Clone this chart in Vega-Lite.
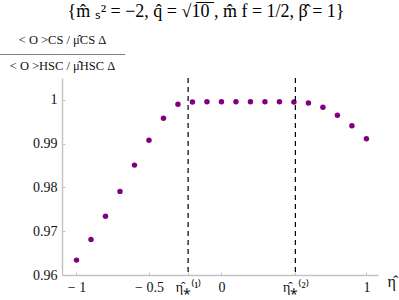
{
  "$schema": "https://vega.github.io/schema/vega-lite/v6.json",
  "autosize": {"type": "none"},
  "padding": {"left": 62, "top": 78, "right": 21, "bottom": 25},
  "width": 316,
  "height": 197,
  "background": "white",
  "view": {"stroke": null},
  "title": {
    "text": "{m̂ ₛ² = −2,  q̂ = √1̅0̅ ,  m̂ f = 1/2,  β̂ = 1}",
    "font": "Liberation Serif",
    "fontSize": 18,
    "fontWeight": "normal",
    "color": "#000",
    "anchor": "middle",
    "frame": "group",
    "offset": 12,
    "dx": -14
  },
  "datasets": {
    "pts": [
      {"eta": -1.0, "r": 0.9634},
      {"eta": -0.9, "r": 0.9681},
      {"eta": -0.8, "r": 0.9734},
      {"eta": -0.7, "r": 0.9791},
      {"eta": -0.6, "r": 0.9851},
      {"eta": -0.5, "r": 0.9908},
      {"eta": -0.4, "r": 0.9958},
      {"eta": -0.3, "r": 0.9990},
      {"eta": -0.2, "r": 0.9995},
      {"eta": -0.1, "r": 0.9996},
      {"eta": 0.0, "r": 0.9996},
      {"eta": 0.1, "r": 0.9996},
      {"eta": 0.2, "r": 0.9996},
      {"eta": 0.3, "r": 0.9996},
      {"eta": 0.4, "r": 0.9996},
      {"eta": 0.5, "r": 0.9995},
      {"eta": 0.6, "r": 0.9993},
      {"eta": 0.7, "r": 0.9983},
      {"eta": 0.8, "r": 0.9965},
      {"eta": 0.9, "r": 0.9941},
      {"eta": 1.0, "r": 0.9911}
    ],
    "stars": [
      {"eta": -0.23},
      {"eta": 0.51}
    ]
  },
  "config": {
    "axis": {
      "domainColor": "#c4c4c4",
      "domainWidth": 1.5,
      "tickColor": "#c4c4c4",
      "tickWidth": 1,
      "tickSize": -3,
      "labelPadding": 8,
      "labelFont": "Liberation Serif",
      "labelFontSize": 14,
      "labelColor": "#111",
      "labelOverlap": false,
      "labelFlush": false,
      "grid": false,
      "titleFont": "Liberation Serif",
      "titleFontWeight": "normal",
      "titleColor": "#111"
    }
  },
  "layer": [
    {
      "data": {"name": "pts"},
      "mark": {"type": "circle", "color": "#800080", "opacity": 1, "size": 30},
      "encoding": {
        "x": {
          "field": "eta",
          "type": "quantitative",
          "scale": {"domain": [-1.1, 1.08], "nice": false, "zero": false},
          "axis": {
            "values": [-1, -0.5, -0.23, 0, 0.51, 1],
            "labelExpr": "datum.value == -0.23 ? 'η̂⁎⁽¹⁾' : datum.value == 0.51 ? 'η̂⁎⁽²⁾' : (datum.value < 0 ? '− ' + format(-datum.value, '') : format(datum.value, ''))",
            "title": "η̂",
            "titleFontSize": 16,
            "titleAlign": "left",
            "titleBaseline": "middle",
            "titleAngle": 0,
            "titleX": 325,
            "titleY": 6
          }
        },
        "y": {
          "field": "r",
          "type": "quantitative",
          "scale": {"domain": [0.96, 1.005], "nice": false, "zero": false},
          "axis": {
            "values": [0.96, 0.97, 0.98, 0.99, 1],
            "labelExpr": "datum.value == 1 ? '1' : format(datum.value, '.2f')",
            "title": ["< O >CS  /  μ̂CS Δ", "——————————", "< O >HSC  /  μ̂HSC Δ"],
            "titleFontSize": 12.5,
            "titleAngle": 0,
            "titleAlign": "center",
            "titleBaseline": "middle",
            "titleLineHeight": 13,
            "titleX": 0,
            "titleY": -39
          }
        }
      }
    },
    {
      "mark": {"type": "rule", "color": "#000", "strokeDash": [5, 4], "strokeWidth": 1.2},
      "encoding": {"y": {"datum": 1}}
    },
    {
      "data": {"name": "stars"},
      "mark": {"type": "rule", "color": "#000", "strokeDash": [5, 4], "strokeWidth": 1.2},
      "encoding": {"x": {"field": "eta", "type": "quantitative"}}
    }
  ]
}
